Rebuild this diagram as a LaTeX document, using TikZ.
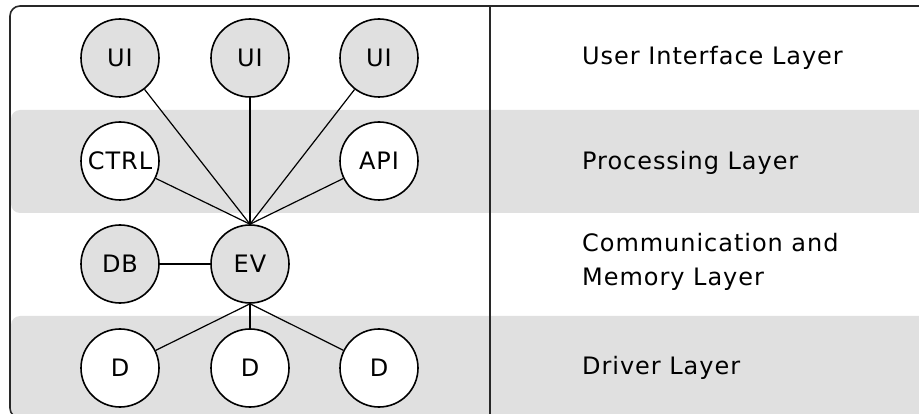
\documentclass[tikz,border=0pt]{standalone}
\usepackage{fontspec}
\setmainfont{DejaVu Sans}[LetterSpace=4]
\begin{document}
\begin{tikzpicture}[x=1pt,y=-1pt,
  unit/.style={circle,draw=black,line width=1.6pt,minimum size=78pt,inner sep=0pt,font=\fontsize{24}{28}\selectfont},
  grayunit/.style={unit,fill=bandgray},
  whiteunit/.style={unit,fill=white},
  link/.style={line width=1.2pt,draw=black},
  layername/.style={anchor=west,align=left,font=\fontsize{24}{34}\selectfont,inner sep=0pt}]
\definecolor{bandgray}{RGB}{224,224,224}
\definecolor{framegray}{RGB}{40,40,40}
\useasboundingbox (0,0) rectangle (919,414);
\clip (0,0) rectangle (919,414);
% shaded layer bands
\fill[bandgray,rounded corners=9pt] (11,110) rectangle (940,213);
\fill[bandgray,rounded corners=9pt] (11,316) rectangle (940,417);
% outer frame and column divider
\draw[framegray,line width=1.6pt,rounded corners=10pt] (10,6) rectangle (960,418);
\draw[framegray,line width=1.6pt] (490,6) -- (490,418);
% layer nodes
\node[grayunit] (u1) at (120,58) {UI};
\node[grayunit] (u2) at (250,58) {UI};
\node[grayunit] (u3) at (379,58) {UI};
\node[whiteunit] (ctrl) at (120,161) {CTRL};
\node[whiteunit] (api) at (379,161) {API};
\node[grayunit] (db) at (120,264) {DB};
\node[grayunit] (ev) at (250,264) {EV};
\node[whiteunit] (d1) at (120,368) {D};
\node[whiteunit] (d2) at (250,368) {D};
\node[whiteunit] (d3) at (379,368) {D};
% connectors
\foreach \n in {u1,u2,u3,ctrl,api} \draw[link] (\n) -- (ev.north);
\draw[link] (db) -- (ev);
\foreach \n in {d1,d2,d3} \draw[link] (ev.south) -- (\n);
% layer names
\node[layername] (l1) at (582,58) {User Interface Layer};
\node[layername] (l2) at (582,163) {Processing Layer};
\node[layername] (l3) at (582,262) {Communication and\\Memory Layer};
\node[layername] (l4) at (582,368) {Driver Layer};
\end{tikzpicture}
\end{document}
